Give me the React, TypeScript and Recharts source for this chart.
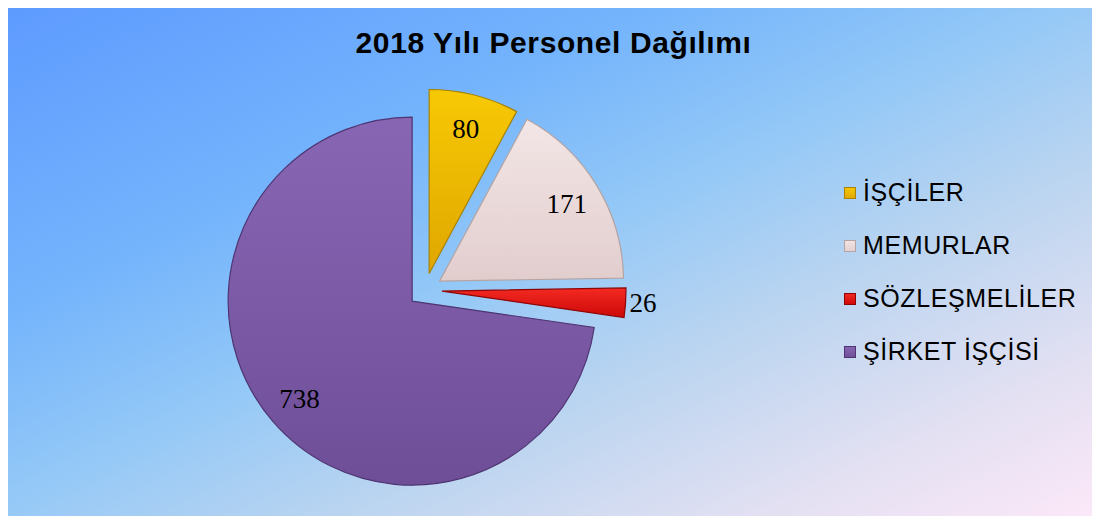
import { PieChart, Pie, Cell, Legend } from 'recharts'

const categories = ['İŞÇİLER', 'MEMURLAR', 'SÖZLEŞMELİLER', 'ŞİRKET İŞÇİSİ']
const values = [80, 171, 26, 738]
const topColors = ['#F7C904', '#F3E6E6', '#F42A22', '#8966B4']
const bottomColors = ['#E0A700', '#E2CDCD', '#CC0808', '#6F4E98']
const strokes = ['#A88200', '#B4A4A4', '#8E0505', '#4E3572']

const W = 1093
const H = 514
// pie centre inside the plot box (chart margin of 5 is added by recharts)
const CX = 413
const CY = 283
const R = 184
const EXPLODE = 17
const RAD = Math.PI / 180

const data = categories.map((name, i) => ({ name, value: values[i] }))
const total = values.reduce((a, b) => a + b, 0)

// mid angle of each slice, clockwise from 12 o'clock
const mids: number[] = []
let acc = 0
values.forEach(v => {
  mids.push(((acc + v / 2) / total) * 360)
  acc += v
})

const makeLabel = (k: number) => (props: any) => {
  if (props.index !== k) return null
  const { cx, cy, midAngle, outerRadius, value } = props
  const small = value / total < 0.05
  const r = small ? outerRadius + 4 : outerRadius * 0.81
  const x = cx + r * Math.cos(-midAngle * RAD)
  const y = cy + r * Math.sin(-midAngle * RAD)
  return (
    <text x={x} y={y} textAnchor={small ? 'start' : 'middle'} dominantBaseline="central"
      fontFamily="'Liberation Serif', serif" fontSize={27} fill="#000">
      {value}
    </text>
  )
}

function LegendBox() {
  return (
    <div style={{ fontFamily: "'Liberation Sans', Arial, sans-serif", fontSize: 25, letterSpacing: 0.6, color: '#000' }}>
      {categories.map((c, i) => (
        <div key={c} style={{ display: 'flex', alignItems: 'center', height: 53 }}>
          <span style={{
            display: 'inline-block', width: 12, height: 12, marginRight: 7,
            background: `linear-gradient(${topColors[i]}, ${bottomColors[i]})`,
            boxShadow: `inset 0 0 0 1px ${strokes[i]}`,
          }} />
          <span>{c}</span>
        </div>
      ))}
    </div>
  )
}

export default function App() {
  return (
    <div style={{
      position: 'relative', width: W, height: H, marginLeft: -1, marginTop: -6,
      background: 'linear-gradient(to bottom right, #5D9AFF 0%, #74B4FC 30%, #93C8F7 48%, #BCD5F0 66%, #E2E0F2 84%, #FCE8F8 100%)',
    }}>
      <div style={{
        position: 'absolute', left: 0, top: 24, width: W, textAlign: 'center',
        fontFamily: "'Liberation Sans', Arial, sans-serif", fontWeight: 'bold', fontSize: 30,
        letterSpacing: 0.6, color: '#000',
      }}>
        2018 Yılı Personel Dağılımı
      </div>
      <PieChart width={W} height={H} style={{ position: 'absolute', left: 0, top: 0 }}>
        <defs>
          {categories.map((_, i) => (
            <linearGradient key={i} id={`grad${i}`} x1="0" y1="0" x2="0" y2="1">
              <stop offset="0%" stopColor={topColors[i]} />
              <stop offset="100%" stopColor={bottomColors[i]} />
            </linearGradient>
          ))}
        </defs>
        {categories.map((_, k) => (
          <Pie key={k} data={data} dataKey="value" nameKey="name"
            cx={CX + EXPLODE * Math.sin(mids[k] * RAD)}
            cy={CY - EXPLODE * Math.cos(mids[k] * RAD)}
            outerRadius={R} startAngle={90} endAngle={-270}
            isAnimationActive={false} labelLine={false} label={makeLabel(k)}>
            {data.map((_, i) => (
              <Cell key={i} fill={i === k ? `url(#grad${i})` : 'none'}
                stroke={i === k ? strokes[i] : 'none'} strokeWidth={1.2} />
            ))}
          </Pie>
        ))}
        <Legend layout="vertical" content={() => <LegendBox />}
          wrapperStyle={{ left: 837, top: 164, width: 256 }} />
      </PieChart>
    </div>
  )
}
